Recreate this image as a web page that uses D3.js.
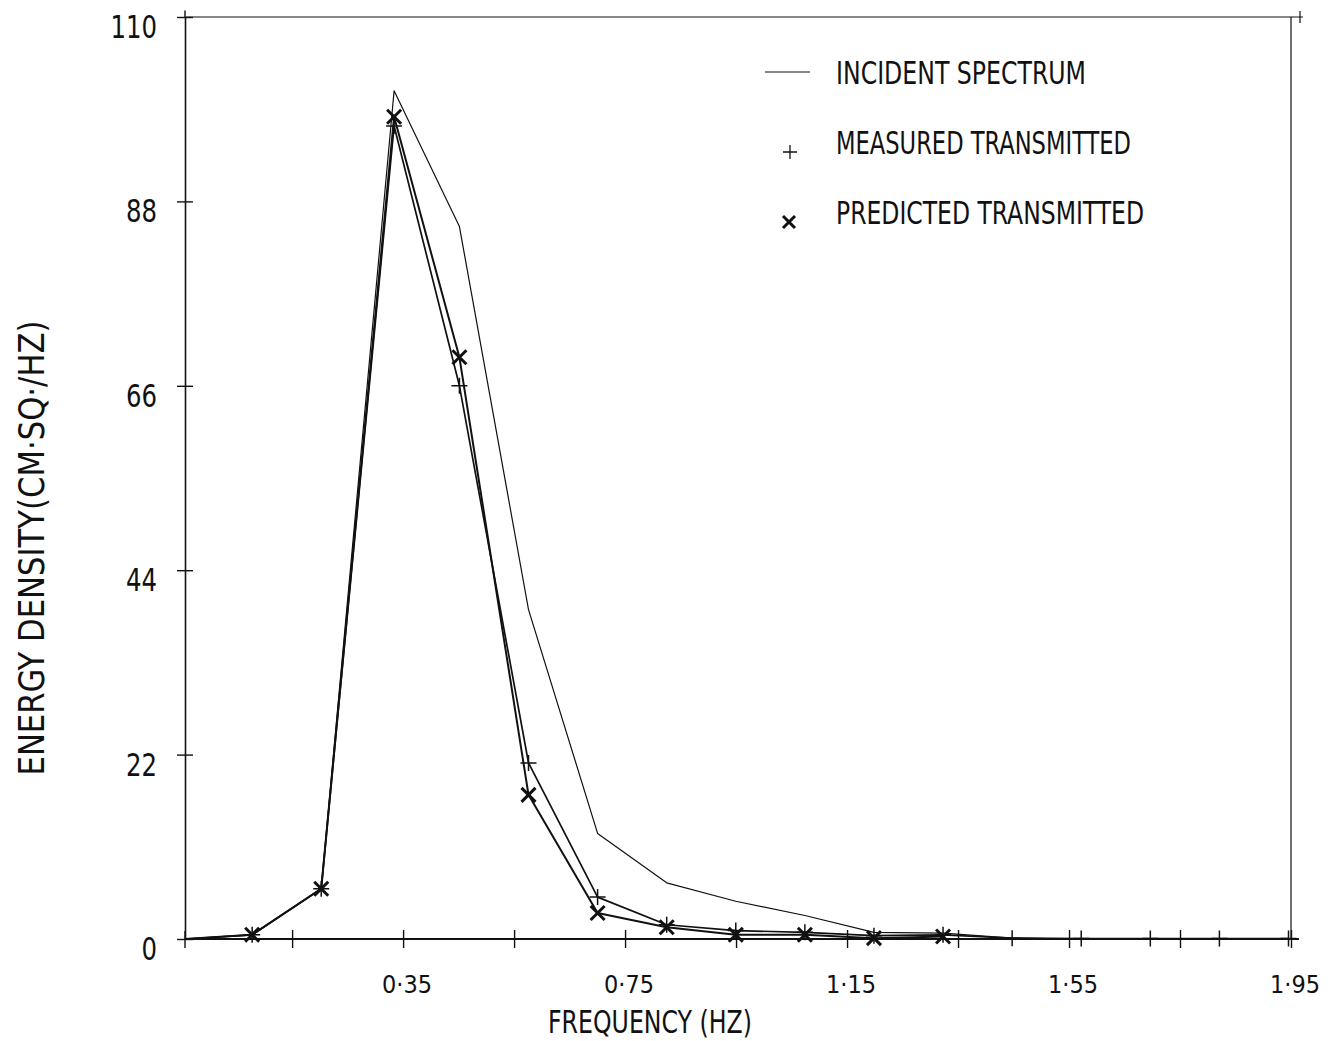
<!DOCTYPE html>
<html>
<head>
<meta charset="utf-8">
<script src="https://cdn.jsdelivr.net/npm/d3@7"></script>
<style>
  html, body { margin: 0; padding: 0; background: #fff; }
  svg text { font-family: "DejaVu Sans Condensed", "Liberation Sans Narrow", "DejaVu Sans", sans-serif; fill: #111; }
</style>
</head>
<body>
<svg id="chart" width="1333" height="1041"></svg>
<script>
// Frequency bands (Hz) of the spectral estimates
const frequency = [-0.043, 0.078, 0.2025, 0.3338, 0.4515, 0.576, 0.7005, 0.825, 0.9495, 1.074, 1.1985, 1.323, 1.4475, 1.572, 1.6965, 1.821, 1.9455];
// Energy density, cm²/Hz
const incident  = [0, 0.5, 6.0, 101.2, 85.0, 39.3, 12.6, 6.7, 4.5, 2.8, 0.8, 0.7, 0.1, 0, 0, 0, 0];
const measured  = [0, 0.5, 6.0, 97.0, 66.0, 21.0, 5.0, 1.7, 1.0, 0.8, 0.4, 0.5, 0.1, 0.05, 0.05, 0.05, 0.05];
const predicted = [0, 0.5, 6.0, 98.1, 69.4, 17.2, 3.1, 1.4, 0.5, 0.5, 0.1, 0.3];

const yTicks = [0, 22, 44, 66, 88, 110];
const xMinorTicks = [0.15, 0.35, 0.55, 0.75, 0.95, 1.15, 1.35, 1.55, 1.75, 1.95];
const xLabelTicks = [0.35, 0.75, 1.15, 1.55, 1.95];

const legendItems = ["INCIDENT SPECTRUM", "MEASURED TRANSMITTED", "PREDICTED TRANSMITTED"];
const legendWidths = [250, 295, 308];

const svg = d3.select("#chart");
const margin = { left: 185, right: 1291, top: 17, bottom: 939 };

const x = d3.scaleLinear().domain([-0.043, 1.95]).range([margin.left, margin.right]);
const y = d3.scaleLinear().domain([0, 110]).range([margin.bottom, margin.top]);

const ink = "#111";

// Frame: top edge and right edge with corner crosses
svg.append("line").attr("x1", margin.left).attr("x2", 1303).attr("y1", margin.top).attr("y2", margin.top)
  .attr("stroke", ink).attr("stroke-width", 1.2);
svg.append("line").attr("x1", margin.right).attr("x2", margin.right).attr("y1", margin.top).attr("y2", margin.bottom)
  .attr("stroke", ink).attr("stroke-width", 1.2);
svg.append("line").attr("x1", 1300).attr("x2", 1300).attr("y1", margin.top - 6).attr("y2", margin.top + 6)
  .attr("stroke", ink).attr("stroke-width", 1.2);

// Y axis
const yAxis = d3.axisLeft(y).tickValues(yTicks).tickSize(0).tickFormat(d => String(d));
const gy = svg.append("g").attr("transform", `translate(${margin.left},0)`).call(yAxis);
gy.select(".domain").attr("stroke", ink).attr("stroke-width", 1.6);
gy.selectAll(".tick text").attr("x", -28).attr("y", 9).attr("dy", "0.36em")
  .attr("font-size", 32).attr("text-anchor", "end")
  .attr("textLength", d => String(d).length * 15.5).attr("lengthAdjust", "spacingAndGlyphs");
gy.selectAll(".tick").append("line").attr("x1", -8).attr("x2", 8)
  .attr("stroke", ink).attr("stroke-width", 1.4);
gy.selectAll(".tick").filter(d => d === 110).append("line").attr("x1", 0).attr("x2", 0).attr("y1", -7).attr("y2", 0)
  .attr("stroke", ink).attr("stroke-width", 1.4);

// X axis
const xAxis = d3.axisBottom(x).tickValues(xMinorTicks).tickSize(0).tickFormat("");
const gx = svg.append("g").attr("transform", `translate(0,${margin.bottom})`).call(xAxis);
gx.select(".domain").attr("stroke", ink).attr("stroke-width", 1.8).attr("d", `M${margin.left},0H${margin.right + 8}`);
gx.selectAll(".tick").append("line").attr("y1", -9).attr("y2", 9)
  .attr("stroke", ink).attr("stroke-width", 1.4);
gx.append("line").attr("x1", margin.left).attr("x2", margin.left).attr("y1", -8).attr("y2", 9)
  .attr("stroke", ink).attr("stroke-width", 1.4);

svg.append("g").selectAll("text").data(xLabelTicks).join("text")
  .attr("x", d => x(d) + 4).attr("y", 993)
  .attr("text-anchor", "middle").attr("font-size", 25)
  .attr("textLength", 50).attr("lengthAdjust", "spacingAndGlyphs")
  .text(d => d.toFixed(2).replace(".", "·"));

// Axis titles
svg.append("text").attr("x", 650).attr("y", 1033).attr("text-anchor", "middle")
  .attr("font-size", 32).attr("textLength", 204).attr("lengthAdjust", "spacingAndGlyphs")
  .text("FREQUENCY  (HZ)");
svg.append("text").attr("transform", "translate(44,548) rotate(-90)").attr("text-anchor", "middle")
  .attr("font-size", 36).attr("textLength", 455).attr("lengthAdjust", "spacingAndGlyphs")
  .text("ENERGY DENSITY(CM·SQ·/HZ)");

// Series
const pts = vals => vals.map((v, i) => [frequency[i], v]);
const line = d3.line().x(d => x(d[0])).y(d => y(d[1]));

svg.append("path").datum(pts(incident)).attr("d", line)
  .attr("fill", "none").attr("stroke", ink).attr("stroke-width", 1.2).attr("stroke-linejoin", "round");
svg.append("path").datum(pts(measured)).attr("d", line)
  .attr("fill", "none").attr("stroke", ink).attr("stroke-width", 1.7).attr("stroke-linejoin", "round");
svg.append("path").datum(pts(predicted)).attr("d", line)
  .attr("fill", "none").attr("stroke", ink).attr("stroke-width", 2.0).attr("stroke-linejoin", "round");

const plusPath = s => `M${-s},0H${s}M0,${-s}V${s}`;
const crossPath = s => `M${-s},${-s}L${s},${s}M${-s},${s}L${s},${-s}`;

svg.append("g").selectAll("path").data(pts(measured).filter(d => d[0] > 0)).join("path")
  .attr("transform", d => `translate(${x(d[0])},${y(d[1])})`)
  .attr("d", plusPath(8)).attr("stroke", ink).attr("stroke-width", 1.5).attr("fill", "none");

svg.append("g").selectAll("path").data(pts(predicted).filter(d => d[0] > 0)).join("path")
  .attr("transform", d => `translate(${x(d[0])},${y(d[1])})`)
  .attr("d", crossPath(7)).attr("stroke", ink).attr("stroke-width", 3).attr("fill", "none");

// Legend
const legendY = [72, 142, 212];
const lg = svg.append("g");
lg.append("line").attr("x1", 765).attr("x2", 810).attr("y1", legendY[0]).attr("y2", legendY[0])
  .attr("stroke", ink).attr("stroke-width", 1.2);
lg.append("path").attr("transform", `translate(790,${legendY[1] + 10})`).attr("d", plusPath(7))
  .attr("stroke", ink).attr("stroke-width", 1.3);
lg.append("path").attr("transform", `translate(789,${legendY[2] + 10})`).attr("d", crossPath(6))
  .attr("stroke", ink).attr("stroke-width", 3);
lg.selectAll("text").data(legendItems).join("text")
  .attr("x", 836).attr("y", (d, i) => legendY[i] + 12)
  .attr("font-size", 32).attr("textLength", (d, i) => legendWidths[i]).attr("lengthAdjust", "spacingAndGlyphs")
  .text(d => d);
</script>
</body>
</html>
